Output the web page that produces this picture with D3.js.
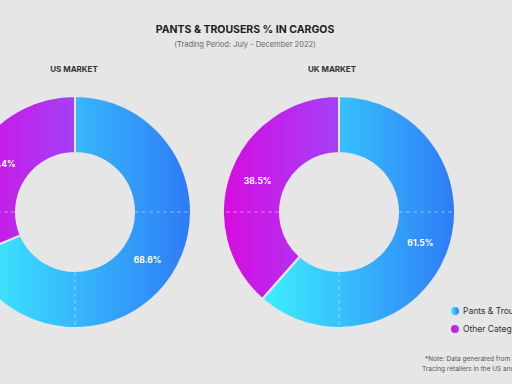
<!DOCTYPE html>
<html>
<head>
<meta charset="utf-8">
<script src="https://cdn.jsdelivr.net/npm/d3@7"></script>
<style>
  html, body { margin: 0; padding: 0; background: #e6e6e6; }
  svg { display: block; }
  text { font-family: Inter, Roboto, "DejaVu Sans", sans-serif; }
</style>
</head>
<body>
<svg id="chart" width="512" height="384"></svg>
<script>
// ---- data ----
const categories = ["Pants & Trousers", "Other Categories"];
const markets = ["US MARKET", "UK MARKET"];
const usValues = [68.6, 31.4];
const ukValues = [61.5, 38.5];
const title = "PANTS & TROUSERS % IN CARGOS";
const subtitle = "(Trading Period: July - December 2022)";
const noteLines = ["*Note: Data generated from tracking of", "Tracing retailers in the US and UK"];

// ---- layout ----
const W = 512, H = 384;
const bg = "#e6e6e6";
const outerR = 116, innerR = 59;
const centers = [{x: 75, y: 212}, {x: 339, y: 212}];
const headerX = [74, 332];

const svg = d3.select("#chart");
svg.append("rect").attr("width", W).attr("height", H).attr("fill", bg);

const defs = svg.append("defs");
function grad(id, c1, c2) {
  const g = defs.append("linearGradient").attr("id", id)
    .attr("x1", "0%").attr("y1", "0%").attr("x2", "100%").attr("y2", "0%");
  g.append("stop").attr("offset", "0%").attr("stop-color", c1);
  g.append("stop").attr("offset", "100%").attr("stop-color", c2);
}
grad("gBlue", "#3ef0ff", "#2e7bf7");
grad("gPurple", "#d60cdf", "#a440f7");
const fills = ["url(#gBlue)", "url(#gPurple)"];

// title
svg.append("text").attr("x", 245).attr("y", 33).attr("text-anchor", "middle")
  .attr("font-size", 10.5).attr("font-weight", 700).attr("fill", "#1e1e1e").text(title);
svg.append("text").attr("x", 245).attr("y", 47).attr("text-anchor", "middle")
  .attr("font-size", 7.5).attr("fill", "#666").text(subtitle);

const pie = d3.pie().sort(null).value(d => d);
const arc = d3.arc().innerRadius(innerR).outerRadius(outerR);
const labelArc = d3.arc().innerRadius(87).outerRadius(87);

[usValues, ukValues].forEach((vals, i) => {
  const c = centers[i];
  svg.append("text").attr("x", headerX[i]).attr("y", 72).attr("text-anchor", "middle")
    .attr("font-size", 8).attr("font-weight", 700).attr("fill", "#333").text(markets[i]);

  const g = svg.append("g").attr("transform", `translate(${c.x},${c.y})`);
  const arcs = pie(vals);
  g.selectAll("path.slice").data(arcs).join("path")
    .attr("class", "slice")
    .attr("d", arc)
    .attr("fill", (d, j) => fills[j])
    .attr("stroke", bg).attr("stroke-width", 2);

  // dashed guide lines over the ring
  [Math.PI / 2, Math.PI, Math.PI * 1.5].forEach(a => {
    const sx = Math.sin(a), sy = -Math.cos(a);
    g.append("line")
      .attr("x1", sx * (innerR + 1)).attr("y1", sy * (innerR + 1))
      .attr("x2", sx * (outerR - 1)).attr("y2", sy * (outerR - 1))
      .attr("stroke", "rgba(255,255,255,0.55)").attr("stroke-width", 0.8)
      .attr("stroke-dasharray", "4,3");
  });

  g.selectAll("text.lbl").data(arcs).join("text")
    .attr("class", "lbl")
    .attr("transform", d => `translate(${labelArc.centroid(d)})`)
    .attr("text-anchor", "middle").attr("dy", "0.35em")
    .attr("font-size", 8.5).attr("font-weight", 700).attr("fill", "#fff")
    .text(d => d.data.toFixed(1) + "%");
});

// legend
const lg = svg.append("g");
categories.forEach((name, j) => {
  const y = 311 + j * 18;
  lg.append("circle").attr("cx", 455).attr("cy", y).attr("r", 4).attr("fill", fills[j]);
  lg.append("text").attr("x", 463).attr("y", y).attr("dy", "0.35em")
    .attr("font-size", 8.5).attr("fill", "#333").text(name);
});

// note
noteLines.forEach((t, k) => {
  svg.append("text").attr("x", k === 0 ? 425 : 422).attr("y", 361 + k * 10)
    .attr("font-size", 6.5).attr("fill", "#555").text(t);
});
</script>
</body>
</html>
